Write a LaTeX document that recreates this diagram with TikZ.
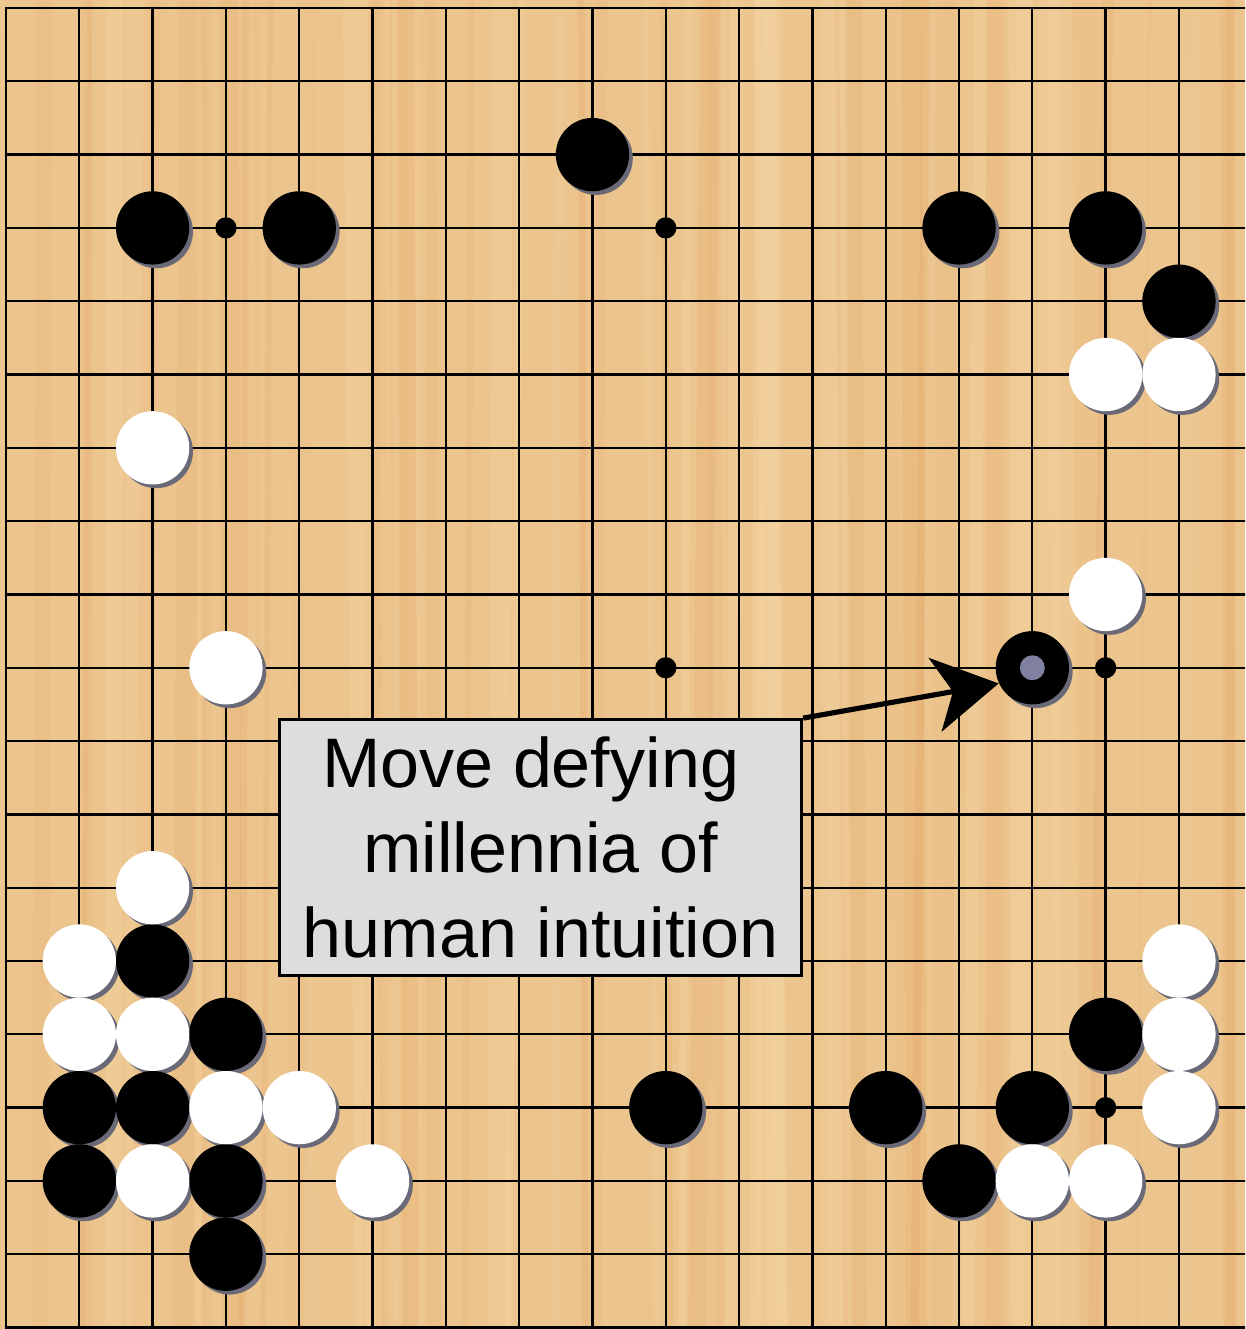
\documentclass[tikz,border=0pt]{standalone}
\usepackage{fontspec}
\setmainfont{Liberation Sans}
\usetikzlibrary{arrows.meta}

\definecolor{wood}{RGB}{236,197,142}
\definecolor{woodlight}{RGB}{246,216,168}
\definecolor{wooddark}{RGB}{226,164,100}
\definecolor{shade}{RGB}{105,105,120}
\definecolor{notegray}{RGB}{221,221,221}
\definecolor{dotgray}{RGB}{128,128,160}

\def\blackstones{8/2, 2/3, 4/3, 13/3, 15/3, 16/4, 2/13, 3/14, 1/15, 2/15, 1/16, 3/16, 3/17, 9/15, 12/15, 14/15, 15/14, 13/16}
\def\whitestones{15/5, 16/5, 2/6, 15/8, 3/9, 2/12, 1/13, 1/14, 2/14, 3/15, 4/15, 2/16, 5/16, 16/13, 16/14, 16/15, 14/16, 15/16}

\begin{document}
\begin{tikzpicture}[
  x=1cm, y=-1cm,
  gridline/.style={line width=0.9pt, line cap=rect},
  hoshi/.style={circle, fill=black, inner sep=0pt, minimum size=0.29cm},
  bstone/.style={circle, fill=black, inner sep=0pt, minimum size=1cm},
  wstone/.style={circle, fill=white, inner sep=0pt, minimum size=1cm},
  stoneshade/.style={fill=shade},
  movedot/.style={circle, fill=dotgray, inner sep=0pt, minimum size=0.34cm},
  callout/.style={rectangle, draw, line width=1.2pt, fill=notegray, align=center, inner sep=0pt,
    minimum width=7.12cm, minimum height=3.49cm, font=\fontsize{27.2}{33}\selectfont},
  pointer/.style={line width=2pt, -{Stealth[length=25pt, width=29pt, inset=7pt]}}
]
\useasboundingbox (-0.082,-0.109) rectangle (16.903,18.02);
\clip (-0.082,-0.109) rectangle (16.903,18.02);

% board
\fill[wood] (-0.2,-0.2) rectangle (17.2,18.2);
\pgfmathsetseed{11}
\foreach \k in {1,...,70}{
  \pgfmathsetmacro\sx{rnd*17.4-0.3}
  \pgfmathsetmacro\sw{0.05+0.3*rnd}
  \pgfmathsetmacro\sa{0.08+0.22*rnd}
  \pgfmathsetmacro\tilt{0.4*rnd-0.2}
  \ifodd\k \def\sc{woodlight}\else\def\sc{wooddark}\fi
  \fill[\sc, opacity=\sa] (\sx,-0.2) -- ++(\sw,0) -- (\sx+\sw+\tilt,18.2) -- (\sx+\tilt,18.2) -- cycle;
}
\foreach \i in {0,...,18}{
  \draw[gridline] (\i,0) -- (\i,18.5);
  \draw[gridline] (0,\i) -- (17.5,\i);
}
\foreach \c/\r in {3/3, 9/3, 15/3, 3/9, 9/9, 15/9, 3/15, 9/15, 15/15}
  \node[hoshi] (h\c-\r) at (\c,\r) {};

% stones
\foreach \c/\r in \blackstones
  \fill[stoneshade] (\c+0.05,\r+0.05) circle (0.5);
\foreach \c/\r in \whitestones
  \fill[stoneshade] (\c+0.05,\r+0.05) circle (0.5);
\fill[stoneshade] (14.05,9.05) circle (0.5);
\foreach \c/\r in \blackstones
  \node[bstone] (b\c-\r) at (\c,\r) {};
\foreach \c/\r in \whitestones
  \node[wstone] (w\c-\r) at (\c,\r) {};
\node[bstone] (move) at (14,9) {};
\node[movedot] (movemark) at (move) {};

% label
\node[callout] (note) at (7.292,11.453) {Move defying\hspace*{0.27cm}\\millennia of\\human intuition};
\draw[pointer] (note.north east) -- (move.205);
\end{tikzpicture}
\end{document}
